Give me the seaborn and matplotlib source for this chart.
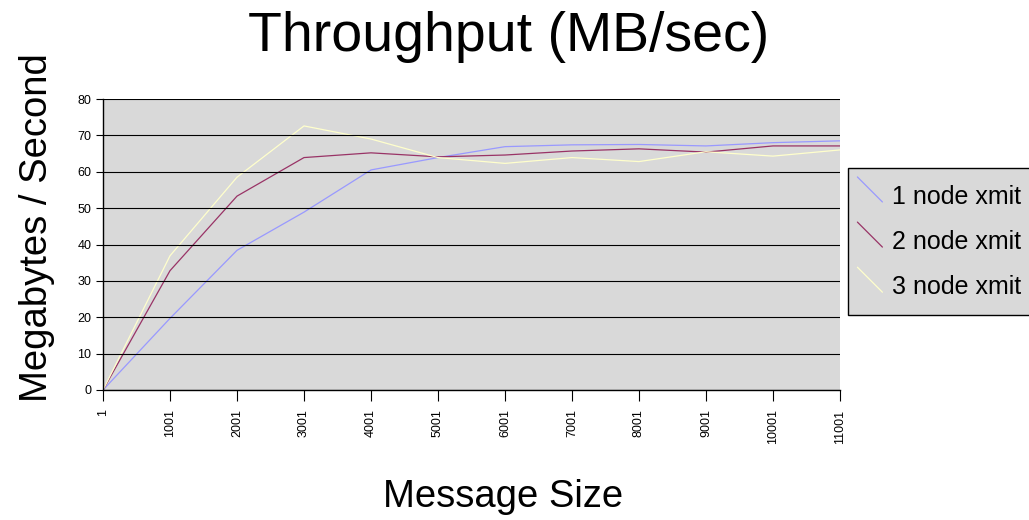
import numpy as np
import pandas as pd
import matplotlib
matplotlib.use('Agg')
import matplotlib.pyplot as plt
import seaborn as sns
from matplotlib.lines import Line2D
from matplotlib.legend_handler import HandlerBase

msg_size = [1, 1001, 2001, 3001, 4001, 5001, 6001, 7001, 8001, 9001, 10001, 11001]
node1 = [0, 19.7, 38.4, 48.9, 60.5, 63.9, 66.9, 67.4, 67.5, 67.1, 68.0, 68.5]
node2 = [0, 32.8, 53.3, 63.9, 65.2, 64.1, 64.6, 65.7, 66.3, 65.4, 67.1, 67.1]
node3 = [0, 36.9, 58.5, 72.6, 69.0, 63.9, 62.3, 63.9, 62.8, 65.5, 64.3, 66.0]
series_names = ['1 node xmit', '2 node xmit', '3 node xmit']
colors = ['#9999FF', '#993366', '#FFFFCC']

df = pd.DataFrame({
    'size': msg_size * 3,
    'mbps': node1 + node2 + node3,
    'series': np.repeat(series_names, len(msg_size)),
})

sns.set_style('white')
plt.rcParams['font.family'] = ['Liberation Sans', 'DejaVu Sans']
plt.rcParams['text.color'] = 'black'
plt.rcParams['xtick.color'] = 'black'
plt.rcParams['ytick.color'] = 'black'

fig = plt.figure(figsize=(10.29, 5.2), dpi=100)
ax = fig.add_axes([0.1001, 0.25, 0.7162, 0.5596])
ax.set_facecolor('#D9D9D9')

sns.lineplot(data=df, x='size', y='mbps', hue='series', palette=colors,
             linewidth=0.9, ax=ax, legend=False)

ax.set_xlim(1, 11001)
ax.set_ylim(0, 80)
ax.set_xticks(msg_size)
ax.set_xticklabels([str(v) for v in msg_size], rotation=90, fontsize=9)
ax.set_yticks(range(0, 81, 10))
ax.tick_params(axis='y', labelsize=9, length=5, width=0.8, direction='out', left=True)
ax.tick_params(axis='x', length=8, width=0.8, direction='out', bottom=True, pad=6)
ax.yaxis.grid(True, color='black', linewidth=0.8)
ax.set_axisbelow(False)
for s in ['top', 'right']:
    ax.spines[s].set_visible(False)
for s in ['left', 'bottom']:
    ax.spines[s].set_color('black')
    ax.spines[s].set_linewidth(1.0)
ax.set_xlabel('')
ax.set_ylabel('')


# legend keys drawn as short diagonal strokes in the upper part of each row
class DiagHandler(HandlerBase):
    def create_artists(self, legend, orig_handle, xdescent, ydescent,
                       width, height, fontsize, trans):
        x0, y0 = -xdescent, -ydescent
        top = y0 + height
        line = Line2D([x0, x0 + width], [top, top - width],
                      color=orig_handle.get_color(), linewidth=0.9, transform=trans)
        return [line]


handles = [Line2D([], [], color=c) for c in colors]
leg = fig.legend(handles, series_names, loc='upper left', bbox_to_anchor=(0.8245, 0.677),
                 handler_map={Line2D: DiagHandler()}, fontsize=18, frameon=True,
                 fancybox=False, handlelength=1.0, handleheight=2.0, handletextpad=0.4,
                 labelspacing=0.26, borderpad=0.36, borderaxespad=0)
leg.get_frame().set_facecolor('#D9D9D9')
leg.get_frame().set_edgecolor('black')
leg.get_frame().set_alpha(1)

fig.text(0.494, 0.929, 'Throughput (MB/sec)', ha='center', va='center', fontsize=40)
fig.text(0.036, 0.5615, 'Megabytes / Second', ha='center', va='center', rotation=90, fontsize=27.5)
fig.text(0.489, 0.044, 'Message Size', ha='center', va='center', fontsize=27.5)

fig.savefig('out.png', dpi=100)
